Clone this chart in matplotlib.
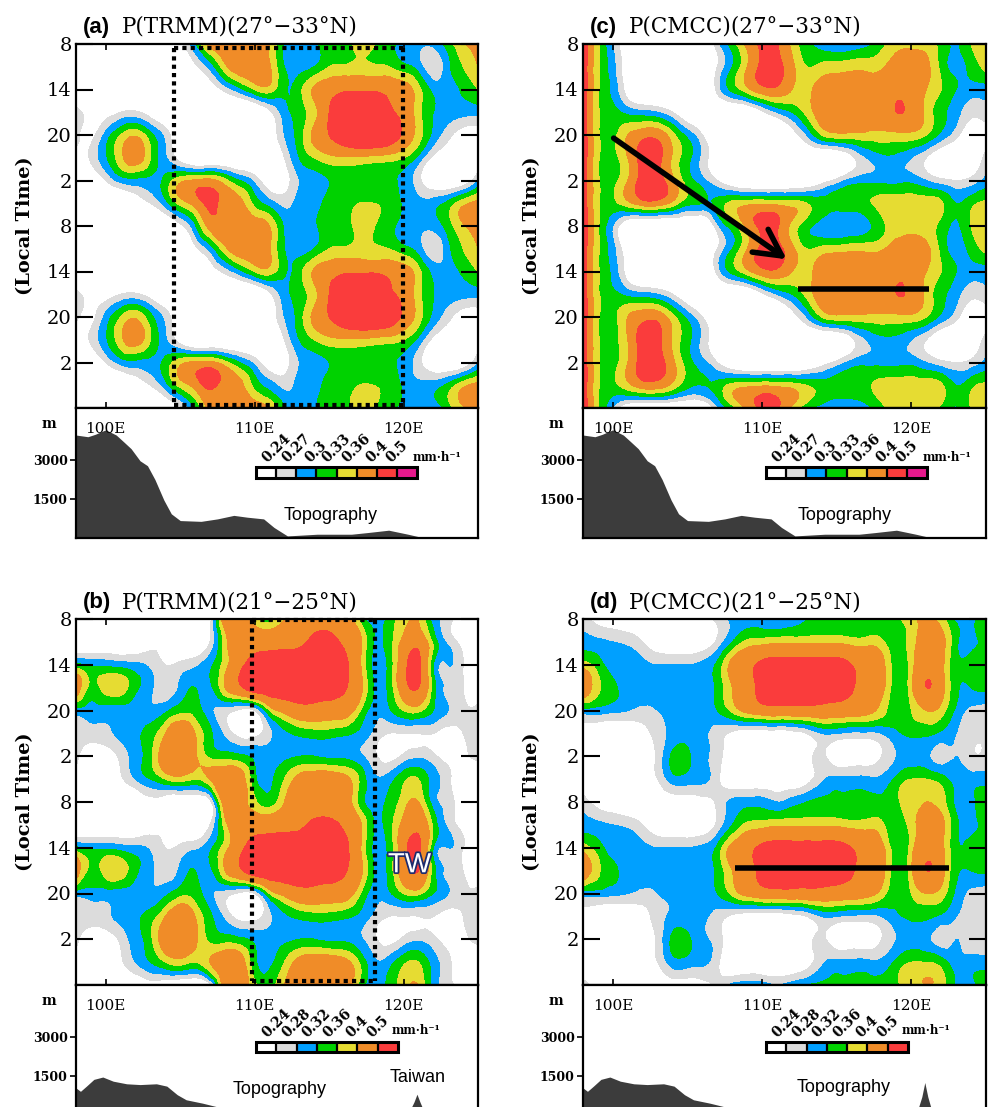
import numpy as np
import matplotlib
matplotlib.use("Agg")
import matplotlib.pyplot as plt
import matplotlib.tri as mtri
from matplotlib import patheffects as pe

# ---------------- data ----------------
lon = np.arange(98, 126)            # degrees E, 1 deg grid
hour = np.arange(0, 49, 3)          # hours after 08 LT (two diurnal cycles)
time_labels = ["8", "14", "20", "2", "8", "14", "20", "2"]

# diurnal composite, rows = 08,11,14,17,20,23,02,05 LT, values in 0.01 mm/h
trmm_north = [
    [18, 18, 18, 18, 18, 18, 19, 23, 29.5, 37.5, 39, 38.5, 38.5, 36, 29.5, 28.5, 29.5, 31.5, 31.5, 34, 33.2, 31, 29, 28, 28, 31.5, 35.5, 38],
    [18, 18, 18, 18, 18, 18, 18, 18, 23, 28, 35, 38.5, 39, 36.5, 30, 28.5, 30, 33, 33.5, 34, 33.5, 33, 31, 28.5, 24.5, 29, 33, 36],
    [18, 18, 18, 18, 18, 18, 18, 18, 18, 21, 25, 29, 33, 34.5, 30.5, 32, 36.5, 38.5, 39.5, 39.5, 39.5, 39, 38, 34, 29, 28.5, 30.5, 33],
    [25.5, 22, 22, 24, 24.5, 22, 19, 18, 18, 18, 18, 18, 19, 23, 28.5, 31.5, 35, 40, 43, 45, 45, 41, 39, 34, 30, 28.5, 28, 28],
    [25, 23, 28, 33, 35.5, 31, 26, 20, 18, 18, 18, 18, 18, 21, 27, 31.5, 37, 40, 43, 45, 45, 43, 39, 34.5, 29, 25, 22, 22],
    [22, 24.5, 29.5, 35, 38, 33, 27.5, 22, 18, 18, 18, 18, 18, 19, 24, 30, 33, 35, 35.5, 35.5, 35, 34.5, 33, 29, 23, 20, 19, 22],
    [18, 20, 24, 28, 29, 29, 31, 35, 36.5, 37, 34, 30, 26, 21, 22, 27, 28.5, 30, 31, 31, 31, 30.5, 29, 25, 21, 19.5, 21, 27],
    [18, 18, 18, 18, 21, 24, 28.5, 34, 37.5, 41, 38.5, 37, 32, 28.5, 26, 28, 29, 31, 32, 33, 33, 32, 29.5, 28, 28.5, 31, 35, 37],
]
cmcc_north = [
    [43, 33.5, 27, 20, 18, 18, 18, 18, 18, 26, 31.5, 37, 41, 40.5, 35, 31, 28.5, 27, 27.5, 29, 32, 34.5, 35, 34.5, 32, 29.5, 33, 35],
    [43, 33.5, 28, 21, 18, 18, 18, 18, 19, 24, 30, 36, 41, 41.5, 37, 33, 34, 34.5, 35, 35, 35.5, 38, 38.5, 37, 32, 29, 31, 34],
    [43, 33.5, 29, 22, 18, 18, 18, 18, 18, 25, 31, 35, 38.5, 39, 36, 35, 37.5, 38, 38, 38, 38.5, 39.5, 39, 36, 33, 30, 28.5, 28.5],
    [43, 33.5, 31, 29, 28, 27, 24, 20, 18, 18, 18, 19, 23, 27, 30, 34, 38, 38.5, 38, 38, 38.5, 40, 39, 35, 31, 28, 25, 26],
    [43, 33.5, 32, 36, 38.5, 38.5, 34, 29, 24, 19, 18, 18, 18, 18, 22, 27, 33, 35, 35, 35, 35, 35, 35, 33, 29, 25, 21, 22],
    [43, 33.5, 32, 36, 42, 41.5, 35.5, 31, 26, 21, 18, 18, 18, 18, 18, 18, 18, 19, 23, 27, 29, 29, 27, 24, 20, 19, 21, 25],
    [43, 33.5, 32, 36, 42, 42, 37, 31.5, 28, 24, 20, 18, 18, 18, 18, 19, 22, 25, 28, 29, 29, 29, 29, 27, 25, 24, 25, 28],
    [43, 33.5, 32, 35, 38, 38, 35, 31, 30, 31, 34, 35, 35.5, 35, 34.5, 33, 31.5, 31.5, 32, 32.5, 34, 34.5, 34.5, 34.5, 33.5, 30, 32, 33.5],
]
trmm_south = [
    [18, 18, 18, 18, 18, 22, 20, 18, 18, 22, 44, 44, 37, 34, 40, 45, 46, 46, 45, 35, 30, 33, 38, 40, 30, 26, 20, 19],
    [18, 18, 18, 18, 18, 22, 21, 18, 18, 24, 38, 45, 46, 46, 47, 48, 52, 52, 49, 42, 32, 34, 42, 46, 35, 27, 22, 20],
    [33, 31, 31, 30, 29, 27, 24, 25, 27, 31, 38, 47, 55, 56, 56, 56, 55, 54, 52, 42, 31, 33, 46, 52, 32, 28, 24, 23],
    [44, 35, 38, 38.5, 33, 29, 25, 29, 32, 31, 40, 48, 56, 57, 57, 56, 55, 54, 51, 43, 32, 33, 45, 50, 34, 27, 24, 22],
    [30, 30, 30, 30, 30, 29, 31, 34.5, 34, 29, 26, 23, 24, 36, 42, 46, 46, 45, 44, 37, 30, 31, 36, 37, 32, 28, 25, 25],
    [25, 26, 27, 29, 31, 34, 40, 46, 40, 33, 27, 22, 22, 27, 31, 33, 34, 34, 33, 31, 27, 24, 24, 24, 24, 22, 24, 26],
    [25, 21, 21, 25, 30, 35, 44, 46, 41, 35, 34, 33, 31, 30, 31, 32, 32, 31, 31, 29, 25, 22, 25, 27, 25, 22, 23, 25],
    [22, 19, 19, 23, 28, 32, 36, 38, 36, 40, 45, 44, 33, 31, 36, 42, 44, 44, 42, 36, 29, 30, 35, 36, 30, 25, 20, 19],
]
cmcc_south = [
    [26, 22, 20, 19, 19, 20, 21, 21, 22, 25, 29, 30, 30, 28, 30, 32, 33, 33, 33, 33, 33, 35, 39, 40, 38, 31, 31, 34],
    [30, 29, 28, 27, 24, 20, 19, 19, 20, 25, 32, 37, 38, 39, 39, 39, 39, 39, 38, 38, 37, 33, 38, 43, 42, 33, 31, 33],
    [38, 34, 30, 30, 29, 28, 28, 28, 29, 33, 42, 47, 52, 54, 54, 54, 54, 54, 50, 46, 42, 33, 38, 46, 42, 33, 34, 35],
    [45, 37, 33, 30, 29, 29, 29, 30, 30, 33, 40, 46, 53, 56, 57, 56, 56, 55, 51, 46, 42, 33, 39, 50, 43, 33, 32, 33],
    [30, 30, 29, 28, 27, 28, 29, 30, 30, 32, 37, 42, 45, 46, 46, 46, 46, 45, 44, 42, 38, 33, 36, 40, 38, 31, 27, 26],
    [22, 20, 19, 20, 22, 26, 29, 30, 29, 26, 23, 21, 21, 21, 22, 24, 28, 28, 27, 27, 28, 31, 33, 33, 31, 28, 25, 25],
    [19, 20, 20, 21, 22, 25, 33, 33, 29, 26, 20, 19, 19, 19, 20, 22, 25, 21, 21, 21, 24, 28, 30, 29, 26, 28, 25, 25],
    [20, 19, 19, 20, 21, 24, 30, 30, 29, 25, 20, 20, 20, 20, 20, 22, 27, 29, 29, 29, 29, 33, 36, 36, 34, 30, 30, 30],
]

levels_north = [0.24, 0.27, 0.30, 0.33, 0.36, 0.40, 0.50]
labels_north = ["0.24", "0.27", "0.3", "0.33", "0.36", "0.4", "0.5"]
levels_south = [0.24, 0.28, 0.32, 0.36, 0.40, 0.50]
labels_south = ["0.24", "0.28", "0.32", "0.36", "0.4", "0.5"]
colors = ["#ffffff", "#dcdcdc", "#00a0ff", "#00d200", "#e6dc32", "#f08c28", "#fa3c3c", "#e6198c"]

topo_lon_north = [98.0, 98.8, 99.3, 99.7, 100.0, 100.7, 101.2, 101.7, 102.3, 102.8, 103.3, 103.9, 104.4, 105.0,
                  106.4, 107.5, 108.6, 109.5, 110.6, 111.3, 112.2, 114.2, 116.5, 117.6, 119.0, 120.3, 121.4, 125.0]
topo_m_north = [3960, 3895, 3990, 4090, 4160, 3960, 3700, 3435, 2970, 2780, 2250, 1460, 930, 670,
                640, 735, 870, 800, 735, 405, 80, 145, 145, 210, 300, 145, 0, 0]
topo_lon_south = [98.0, 98.3, 98.7, 99.2, 99.8, 100.5, 101.4, 102.3, 103.4, 104.1, 104.8, 105.4, 106.5, 107.7,
                  108.6, 110.0, 111.3, 111.5, 111.7, 113.0, 116.0, 119.0, 120.4, 120.7, 120.9, 121.1, 121.4, 122.0, 125.0]
topo_m_trmm_south = [1040, 910, 1110, 1370, 1460, 1300, 1200, 1170, 1200, 1110, 780, 585, 455, 285,
                     155, 100, 100, 260, 100, 60, 40, 20, 150, 500, 800, 500, 100, 0, 0]
topo_m_cmcc_south = [1040, 910, 1110, 1370, 1460, 1300, 1200, 1170, 1200, 1110, 780, 585, 455, 285,
                     155, 100, 100, 260, 100, 60, 40, 20, 150, 700, 1250, 700, 100, 0, 0]

W, H = 988, 1107
SERIF = "DejaVu Serif"

# smooth contouring of the gridded values through matplotlib's triangulation refiner
gx, gy = np.meshgrid(lon, hour)
grid_tri = mtri.Triangulation(gx.ravel(), gy.ravel())
refiner = mtri.UniformTriRefiner(grid_tri)


def px(l, t, r, b):
    return [l / W, 1 - b / H, (r - l) / W, (b - t) / H]


def two_days(day):
    z = np.array(day) / 100.0
    return np.vstack([z, z, z[:1]])


def draw(tag, name, field, levels, labels, main_box, topo_box, cb_box, unit_xy,
         topo_lon, topo_m, topo_xy):
    l, t, r, b = main_box
    ax = fig.add_axes(px(*main_box))
    tri_f, z_f = refiner.refine_field(two_days(field).ravel(), subdiv=3)
    cf = ax.tricontourf(tri_f, z_f, levels=[0] + levels + [1],
                        colors=colors[:len(levels) + 1])
    ax.set_xlim(98, 125)
    ax.set_ylim(48, 0)
    ax.set_yticks(np.arange(0, 48, 6))
    ax.set_yticklabels(time_labels, fontfamily=SERIF, fontsize=14)
    ax.tick_params(axis="y", direction="in", length=12, width=1.5, left=True, right=True, pad=3)
    ax.set_xticks([100, 110, 120])
    ax.tick_params(axis="x", direction="in", length=4, width=1.2, top=True, bottom=True,
                   labelbottom=False)
    for s in ax.spines.values():
        s.set_linewidth(1.6)
    ax.set_ylabel("(Local Time)", fontfamily=SERIF, fontweight="bold", fontsize=14)
    ax.yaxis.set_label_coords(-0.105, 0.5)

    fig.text((l + 7) / W, 1 - (t - 11) / H, tag, fontfamily="Liberation Sans",
             fontweight="bold", fontsize=16, va="baseline")
    fig.text((l + 46) / W, 1 - (t - 11) / H, name, fontfamily=SERIF, fontsize=15.5,
             va="baseline")

    tx = fig.add_axes(px(*topo_box))
    tx.fill_between(topo_lon, topo_m, 0, color="#3c3c3c", lw=0)
    tx.set_xlim(98, 125)
    tx.set_ylim(0, 5000)
    tx.set_yticks([1500, 3000])
    tx.set_yticklabels(["1500", "3000"], fontfamily=SERIF, fontweight="bold", fontsize=9)
    tx.tick_params(axis="y", direction="out", length=4, width=1.2, pad=2)
    tx.set_xticks([100, 110, 120])
    tx.set_xticklabels(["100E", "110E", "120E"], fontfamily=SERIF, fontsize=11)
    tx.tick_params(axis="x", top=True, bottom=False, labeltop=True, labelbottom=False,
                   length=0, pad=-20)
    for s in tx.spines.values():
        s.set_linewidth(1.6)
    tx.text(-0.067, 0.877, "m", transform=tx.transAxes, fontfamily=SERIF,
            fontweight="bold", fontsize=10, ha="center", va="center")
    fig.text(topo_xy[0] / W, 1 - topo_xy[1] / H, "Topography", fontfamily="Liberation Sans",
             fontsize=13, ha="center", va="center")

    cax = fig.add_axes(px(*cb_box))
    cax.set_zorder(5)
    cb = fig.colorbar(cf, cax=cax, orientation="horizontal", ticks=levels,
                      drawedges=True, spacing="uniform")
    cb.outline.set_linewidth(2.2)
    cb.dividers.set_linewidth(1.6)
    cb.dividers.set_color("k")
    cax.xaxis.set_ticks_position("top")
    cax.tick_params(length=0, pad=1)
    cax.set_xticklabels(labels, rotation=45, fontfamily=SERIF, fontsize=10, fontweight="bold")
    fig.text(unit_xy[0] / W, 1 - unit_xy[1] / H, "mm·h⁻¹", fontfamily=SERIF,
             fontweight="bold", fontsize=8.5, ha="center", va="center")
    return ax, tx


fig = plt.figure(figsize=(W / 100, H / 100), dpi=100)

dots = dict(color="k", lw=3, linestyle=(0, (1, 1)), dash_capstyle="butt", clip_on=False)

ax_a, _ = draw("(a)", "P(TRMM)(27°−33°N)", trmm_north, levels_north, labels_north,
               (76, 44, 478, 408), (76, 408, 478, 538), (256, 467, 417, 478), (437, 457),
               topo_lon_north, topo_m_north, (331, 515))
ax_a.plot([104.6, 104.6], [0.5, 47.6], **dots)
ax_a.plot([119.95, 119.95], [0.5, 47.6], **dots)
ax_a.plot([104.6, 119.95], [0.5, 0.5], **dots)
ax_a.plot([104.6, 119.95], [47.6, 47.6], **dots)

ax_c, _ = draw("(c)", "P(CMCC)(27°−33°N)", cmcc_north, levels_north, labels_north,
               (583, 44, 986, 408), (583, 408, 986, 538), (766, 467, 927, 478), (947, 457),
               topo_lon_north, topo_m_north, (845, 515))
ax_c.annotate("", xy=(111.8, 28.6), xytext=(99.9, 12.2),
              arrowprops=dict(arrowstyle="->,head_length=1.9,head_width=1.0", lw=4, color="k"))
ax_c.plot([112.4, 121.2], [32.3, 32.3], color="k", lw=4, solid_capstyle="butt")

ax_b, tx_b = draw("(b)", "P(TRMM)(21°−25°N)", trmm_south, levels_south, labels_south,
                  (76, 619, 478, 985), (76, 985, 478, 1115), (256, 1042, 398, 1052), (416, 1031),
                  topo_lon_south, topo_m_trmm_south, (280, 1090))
ax_b.plot([109.85, 109.85], [0.1, 47.5], **dots)
ax_b.plot([118.05, 118.05], [0.1, 47.5], **dots)
ax_b.plot([109.85, 118.05], [0.1, 0.1], **dots)
ax_b.plot([109.85, 118.05], [47.5, 47.5], **dots)
ax_b.text(120.4, 32.3, "TW", fontfamily="Liberation Sans", fontsize=20, color="white",
          ha="center", va="center",
          path_effects=[pe.withStroke(linewidth=2.5, foreground="#1c2c6e")])
fig.text(418 / W, 1 - 1078 / H, "Taiwan", fontfamily="Liberation Sans", fontsize=13,
         ha="center", va="center")

ax_d, _ = draw("(d)", "P(CMCC)(21°−25°N)", cmcc_south, levels_south, labels_south,
               (583, 619, 986, 985), (583, 985, 986, 1115), (766, 1042, 908, 1052), (926, 1031),
               topo_lon_south, topo_m_cmcc_south, (844, 1088))
ax_d.plot([108.2, 122.5], [32.7, 32.7], color="k", lw=4, solid_capstyle="butt")

fig.savefig("out.png", dpi=100)
